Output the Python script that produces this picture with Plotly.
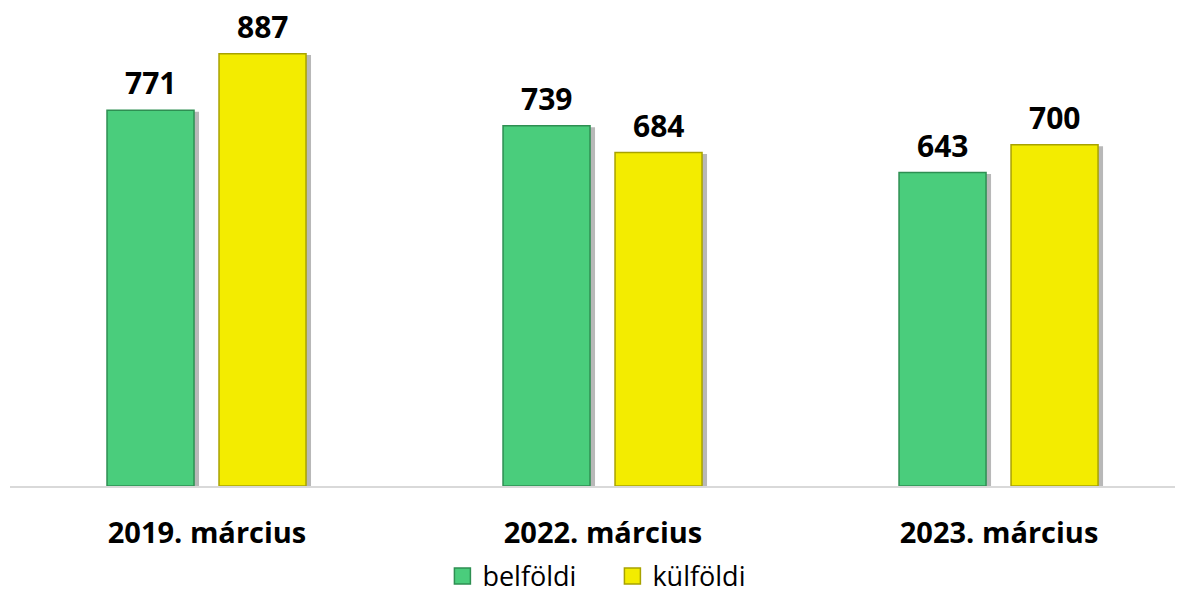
import plotly.graph_objects as go

categories = ["2019. március", "2022. március", "2023. március"]
belfoldi = [771, 739, 643]
kulfoldi = [887, 684, 700]
series_names = ["belföldi", "külföldi"]

GREEN = "#4ACD7C"
GREEN_EDGE = "#2E8F52"
YELLOW = "#F3EC00"
YELLOW_EDGE = "#A8A200"
FONT = "Open Sans"

px_per_cat = 396.0
bar_w = 87 / px_per_cat
offsets = [-100 / px_per_cat, 12 / px_per_cat]
shadow_dx = 5 / px_per_cat

idx = list(range(len(categories)))

fig = go.Figure()

# soft shadows to the right of each bar
for vals, off in zip([belfoldi, kulfoldi], offsets):
    fig.add_trace(go.Bar(
        x=idx, y=[v - 3 for v in vals], width=bar_w, offset=off + shadow_dx,
        marker=dict(color="rgba(0,0,0,0.28)", line=dict(width=0)),
        showlegend=False, hoverinfo="skip",
    ))

for vals, off, col, edge, name in zip([belfoldi, kulfoldi], offsets,
                                       [GREEN, YELLOW], [GREEN_EDGE, YELLOW_EDGE], series_names):
    fig.add_trace(go.Bar(
        x=idx, y=vals, width=bar_w, offset=off, name=name,
        marker=dict(color=col, line=dict(color=edge, width=1.5)),
        showlegend=False,
    ))
    for i, v in zip(idx, vals):
        fig.add_annotation(
            x=i + off + bar_w / 2, y=v, text=str(v), showarrow=False,
            yanchor="bottom", yshift=5,
            font=dict(family=FONT, size=30, color="black", weight="bold"),
        )
    fig.add_trace(go.Scatter(
        x=[None], y=[None], mode="markers", name=name,
        marker=dict(symbol="square", size=19, color=col, line=dict(color=edge, width=1.5)),
        showlegend=True,
    ))

# page has an 8px body margin, so the figure is sized to fit the 1183x590 window
fig.update_layout(
    width=1175, height=582,
    barmode="overlay",
    plot_bgcolor="white", paper_bgcolor="white",
    margin=dict(l=2, r=1, t=12, b=104, autoexpand=False),
    font=dict(family=FONT, color="black"),
    xaxis=dict(
        tickmode="array", tickvals=idx, ticktext=categories,
        range=[-0.4975, 2.462], automargin=False,
        showline=True, linecolor="#D9D9D9", linewidth=1.5,
        showgrid=False, zeroline=False, ticks="",
        tickfont=dict(family=FONT, size=29, color="black", weight="bold"),
        ticklabelstandoff=20,
    ),
    yaxis=dict(range=[0, 956], visible=False, showgrid=False, zeroline=False),
    legend=dict(
        orientation="h", x=0.514, xanchor="center", y=-0.194, yanchor="middle",
        font=dict(family=FONT, size=27, color="black"),
        itemwidth=30, entrywidth=125, entrywidthmode="pixels",
    ),
    showlegend=True,
)

fig.write_html("out.html")
